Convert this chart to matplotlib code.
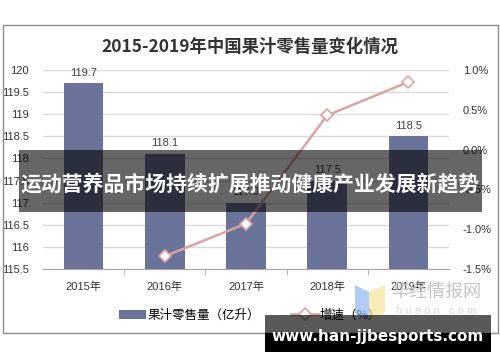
import matplotlib
matplotlib.use('Agg')
import matplotlib.pyplot as plt
from matplotlib.patches import Rectangle, Polygon
from matplotlib.ticker import FuncFormatter, MultipleLocator, FixedLocator

plt.rcParams['font.family'] = ['Liberation Sans', 'Noto Sans CJK SC', 'DejaVu Sans']

# 数据
years = ['2015年', '2016年', '2017年', '2018年', '2019年']
volume = [119.7, 118.1, 117.0, 117.5, 118.5]   # 亿升
growth_years = ['2016年', '2017年', '2018年', '2019年']
growth = [-1.34, -0.93, 0.43, 0.85]            # %

bar_color = '#6A7399'
line_color = '#D9A3A3'
grid_color = '#D9D9D9'

W, H = 500, 362
fig = plt.figure(figsize=(W / 100, H / 100), dpi=100)
fig.patch.set_facecolor('white')

def fx(x):
    return x / W

def fy(y):
    return 1 - y / H

# 外框
fig.add_artist(Rectangle((fx(3), fy(333)), fx(495), 308 / H, transform=fig.transFigure,
                         fill=False, edgecolor='#8C8C8C', linewidth=1))

ax = fig.add_axes([fx(43), fy(269), fx(406), 199 / H])
x = list(range(len(years)))
bars = ax.bar(x, volume, width=0.49, color=bar_color, zorder=2)
ax.set_ylim(115.5, 120)
ax.set_xlim(-0.5, 4.5)
ax.yaxis.set_major_locator(MultipleLocator(0.5))
ax.yaxis.set_major_formatter(FuncFormatter(lambda v, _: '%g' % v))
ax.grid(axis='y', color=grid_color, linewidth=1, zorder=0)
ax.set_axisbelow(True)
for s in ['top', 'right', 'left']:
    ax.spines[s].set_visible(False)
ax.spines['bottom'].set_color('#A6A6A6')
ax.set_xticks(x)
ax.set_xticklabels(years)
ax.xaxis.set_minor_locator(FixedLocator([0.5, 1.5, 2.5, 3.5]))
ax.tick_params(axis='x', which='major', length=0, labelsize=8, pad=9, labelcolor='#333333')
ax.tick_params(axis='x', which='minor', length=4, color='#A6A6A6', direction='out')
ax.tick_params(axis='y', length=0, labelsize=8, pad=10, labelcolor='#333333')

for b, v in zip(bars, volume):
    ax.annotate('%.1f' % v, (b.get_x() + b.get_width() / 2, v), xytext=(0, 4),
                textcoords='offset points', ha='center', va='bottom', fontsize=8,
                color='#404040')

ax2 = ax.twinx()
gx = [years.index(g) for g in growth_years]
ln, = ax2.plot(gx, growth, color=line_color, linewidth=1.8, marker='D', markersize=6,
               markerfacecolor='white', markeredgecolor=line_color, markeredgewidth=1.2,
               zorder=3)
ax2.set_ylim(-1.5, 1.0)
ax2.yaxis.set_major_locator(MultipleLocator(0.5))
ax2.yaxis.set_major_formatter(FuncFormatter(lambda v, _: '%.1f%%' % v))
ax2.tick_params(axis='y', length=0, labelsize=8, pad=10, labelcolor='#333333')
for s in ax2.spines.values():
    s.set_visible(False)

fig.text(0.5, fy(47), '2015-2019年中国果汁零售量变化情况', ha='center', va='center',
         fontsize=12.5, fontweight='bold', color='#333333',
         family=['Noto Sans CJK SC', 'DejaVu Sans'])

leg = fig.legend([bars, ln], ['果汁零售量（亿升）', '增速（%）'], loc='center',
                 bbox_to_anchor=(0.5, fy(315)), ncol=2, frameon=False,
                 handlelength=2.2, columnspacing=2.5, handletextpad=0.1,
                 prop={'family': ['Noto Sans CJK SC'], 'size': 9})

# 横幅
fig.add_artist(Rectangle((fx(19), fy(212)), fx(463), 62 / H, transform=fig.transFigure,
                         facecolor='black', alpha=0.6, edgecolor='none', zorder=10))
fig.text(fx(250), fy(184), '运动营养品市场持续扩展推动健康产业发展新趋势', ha='center',
         va='center', fontsize=15, fontweight='bold', color='white', zorder=11,
         family=['Noto Sans CJK SC'])

# 水印
fig.add_artist(Polygon([[fx(355), fy(285)], [fx(369), fy(292)], [fx(369), fy(320)], [fx(355), fy(313)]],
                       closed=True, transform=fig.transFigure, facecolor='#8FB5F0', alpha=0.7,
                       edgecolor='none', zorder=8))
fig.add_artist(Polygon([[fx(369), fy(292)], [fx(385), fy(285)], [fx(385), fy(313)], [fx(369), fy(320)]],
                       closed=True, transform=fig.transFigure, facecolor='#F5E49A', alpha=0.7,
                       edgecolor='none', zorder=8))
fig.text(fx(436), fy(292), '华经情报网', ha='center', va='center', fontsize=13,
         color='#C4C4C4', zorder=8, family=['Noto Sans CJK SC'])
fig.text(fx(436), fy(311), 'h u a o n . c o m', ha='center', va='center', fontsize=8,
         color='#DADADA', zorder=8)

fig.add_artist(Rectangle((fx(265), fy(333)), fx(226), 18 / H, transform=fig.transFigure,
                         facecolor='black', alpha=0.65, edgecolor='none', zorder=12))
fig.add_artist(Rectangle((fx(265), fy(352)), fx(226), 19 / H, transform=fig.transFigure,
                         facecolor='black', edgecolor='none', zorder=12))
fig.text(fx(378), fy(336), 'www.han-jjbesports.com', ha='center', va='center',
         fontsize=11, fontweight='bold', color='white', zorder=13,
         family=['DejaVu Sans'])

fig.savefig('out.png', dpi=100)
